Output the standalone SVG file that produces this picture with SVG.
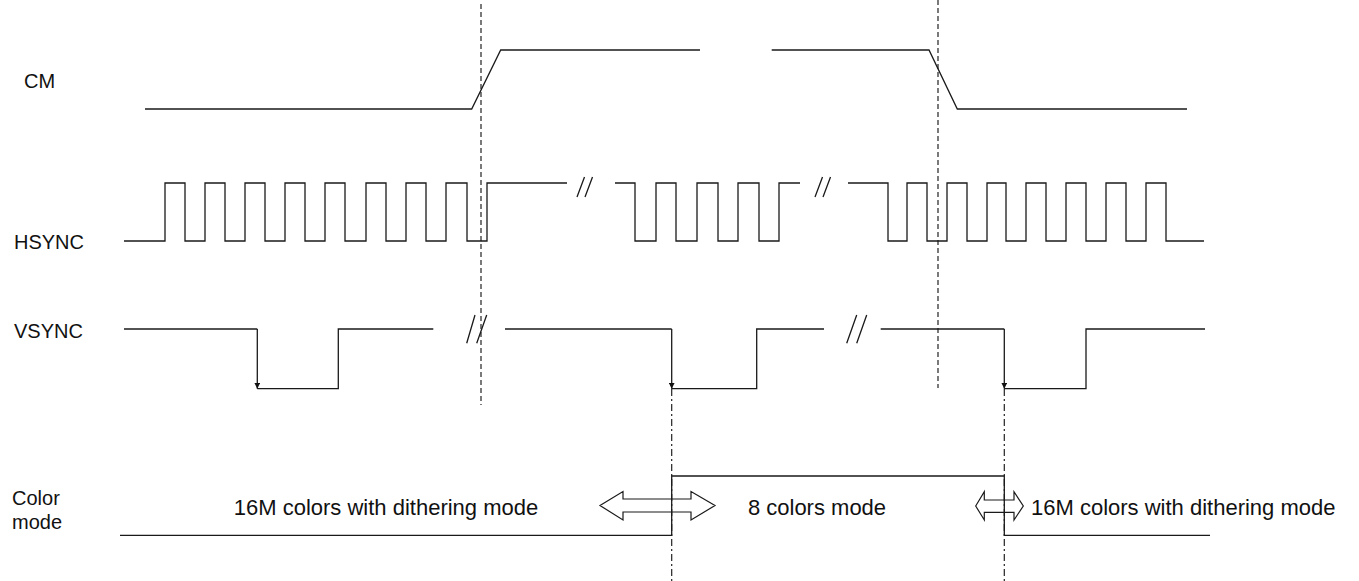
<svg xmlns="http://www.w3.org/2000/svg" width="1359" height="581" viewBox="0 0 1359 581">
<style>
.w{fill:none;stroke:#1a1a1a;stroke-width:1.3;stroke-linejoin:miter}
.dash{fill:none;stroke:#222;stroke-width:1.2;stroke-dasharray:5 3}
.dd{fill:none;stroke:#222;stroke-width:1.2;stroke-dasharray:7 3 2 3}
.lbl{font-family:"Liberation Sans",Arial,sans-serif;font-size:20px;fill:#111}
.txt{font-family:"Liberation Sans",Arial,sans-serif;font-size:22px;fill:#111}
.arr{fill:#fff;stroke:#1a1a1a;stroke-width:1.2}
</style>
<defs>
<marker id="ah" viewBox="0 0 10 10" refX="10" refY="5" markerWidth="6" markerHeight="6" markerUnits="userSpaceOnUse" orient="auto"><path d="M0,0 L10,5 L0,10 Z" fill="#111"/></marker>
</defs>
<rect width="1359" height="581" fill="#fff"/>

<g id="labels">
<text class="lbl" x="24" y="88">CM</text>
<text class="lbl" x="14" y="249">HSYNC</text>
<text class="lbl" x="14" y="338">VSYNC</text>
<text class="lbl" x="12" y="505">Color</text>
<text class="lbl" x="12" y="529">mode</text>
</g>

<g id="mode-arrows">
<path class="arr" d="M600,505.5 L623,491.5 L623,499 L691,499 L691,491.5 L715,505.5 L691,520 L691,512 L623,512 L623,520 Z"/>
<path class="arr" d="M975.7,506 L984.3,491.7 L984.3,500 L1014,500 L1014,491.7 L1023.3,506 L1014,520 L1014,512.3 L984.3,512.3 L984.3,520 Z"/>
</g>

<g id="connectors">
<line class="dash" x1="481" y1="4" x2="481" y2="405"/>
<line class="dash" x1="938" y1="0" x2="938" y2="388"/>
<line class="dd" x1="671.7" y1="389" x2="671.7" y2="581"/>
<line class="dd" x1="1004.3" y1="389" x2="1004.3" y2="581"/>
</g>

<g id="cm">
<polyline class="w" points="145,109 471.7,109 500.7,50 700,50"/>
<polyline class="w" points="771.7,50 929,50 957.3,109 1187,109"/>
</g>

<g id="hsync">
<polyline class="w" points="124,241 165,241 165,183 185,183 185,241 205,241 205,183 225,183 225,241 245,241 245,183 265,183 265,241 285,241 285,183 305,183 305,241 325,241 325,183 345,183 345,241 366,241 366,183 386,183 386,241 406,241 406,183 426,183 426,241 446,241 446,183 467,183 467,241 487,241 487,183 567,183"/>
<path class="w" d="M577,197 L584.5,177 M585,197 L592.5,177"/>
<polyline class="w" points="615,183 635,183 635,241 656,241 656,183 676,183 676,241 697,241 697,183 718,183 718,241 738,241 738,183 759,183 759,241 779,241 779,183 800,183"/>
<path class="w" d="M815,197 L822.5,177 M823,197 L830.5,177"/>
<polyline class="w" points="848,183 888,183 888,241 907,241 907,183 927,183 927,241 947,241 947,183 967,183 967,241 987,241 987,183 1006,183 1006,241 1026,241 1026,183 1046,183 1046,241 1066,241 1066,183 1086,183 1086,241 1106,241 1106,183 1126,183 1126,241 1146,241 1146,183 1166,183 1166,241 1204,241"/>
</g>

<g id="vsync">
<polyline class="w" points="124,329 257.3,329"/>
<line class="w" x1="257.3" y1="329" x2="257.3" y2="388.7" marker-end="url(#ah)"/>
<polyline class="w" points="257.3,388.7 338.3,388.7 338.3,329 433.3,329"/>
<path class="w" d="M466.7,343.3 L475,315 M476.7,343.3 L486.7,315"/>
<polyline class="w" points="505,329 671.7,329"/>
<line class="w" x1="671.7" y1="329" x2="671.7" y2="388.7" marker-end="url(#ah)"/>
<polyline class="w" points="671.7,388.7 756.7,388.7 756.7,329 824,329"/>
<path class="w" d="M846.7,343.3 L856.7,315 M856.7,343.3 L866.7,315"/>
<polyline class="w" points="880.7,329 1004.3,329"/>
<line class="w" x1="1004.3" y1="329" x2="1004.3" y2="388.7" marker-end="url(#ah)"/>
<polyline class="w" points="1004.3,388.7 1086,388.7 1086,329 1205,329"/>
</g>

<g id="color-mode">
<polyline class="w" points="120,535.3 671.7,535.3 671.7,476 1004.3,476 1004.3,535.3 1210,535.3"/>
<text class="txt" x="386" y="515" text-anchor="middle">16M colors with dithering mode</text>
<text class="txt" x="817" y="515" text-anchor="middle">8 colors mode</text>
<text class="txt" x="1031" y="515">16M colors with dithering mode</text>
</g>
</svg>
